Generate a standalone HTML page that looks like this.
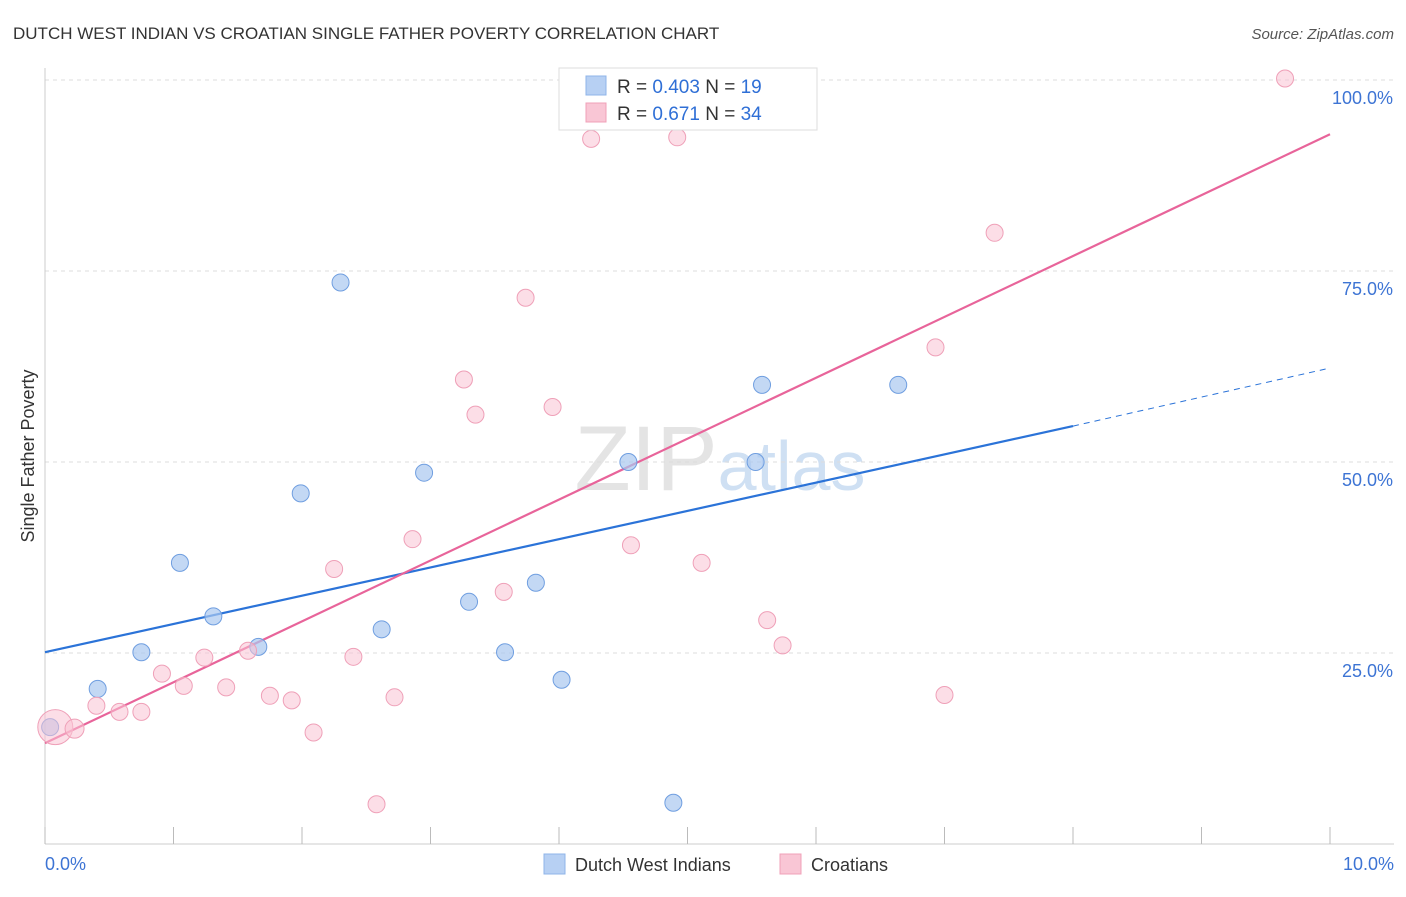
<!DOCTYPE html>
<html><head><meta charset="utf-8"><style>
body{margin:0;background:#fff;font-family:"Liberation Sans",sans-serif}
svg text{font-family:"Liberation Sans",sans-serif}
</style></head><body>
<svg id="chart" width="1406" height="892" xmlns="http://www.w3.org/2000/svg">
<text x="13" y="39" font-size="17" fill="#333">DUTCH WEST INDIAN VS CROATIAN SINGLE FATHER POVERTY CORRELATION CHART</text>
<text x="1394" y="39" font-size="15" fill="#555" text-anchor="end" font-style="italic">Source: ZipAtlas.com</text>
<text transform="translate(34,456) rotate(-90)" font-size="18" fill="#333" text-anchor="middle">Single Father Poverty</text>
<text x="720" y="490" font-size="92" fill="#e4e4e4" text-anchor="middle" font-family="Liberation Serif">ZIP<tspan fill="#cfe0f3" font-family="Liberation Sans" font-size="70">atlas</tspan></text>
<g id="grid"></g><g id="axes"></g><g id="trends"></g><g id="points"></g>
<g>
<rect x="559" y="68" width="258" height="62" fill="#fff" stroke="#ddd"/>
<rect x="586" y="76" width="20" height="19" fill="#b7d0f3" stroke="#8fb4e8"/>
<text x="617" y="93" font-size="19" fill="#333">R = <tspan fill="#2f6fd6">0.403</tspan>  N =  <tspan fill="#2f6fd6">19</tspan></text>
<rect x="586" y="103" width="20" height="19" fill="#f9c6d5" stroke="#f0a0b8"/>
<text x="617" y="120" font-size="19" fill="#333">R =  <tspan fill="#2f6fd6">0.671</tspan>  N = <tspan fill="#2f6fd6">34</tspan></text>
</g>
<g>
<rect x="544" y="854" width="21" height="20" fill="#b7d0f3" stroke="#8fb4e8"/>
<text x="575" y="871" font-size="18" fill="#333">Dutch West Indians</text>
<rect x="780" y="854" width="21" height="20" fill="#f9c6d5" stroke="#f0a0b8"/>
<text x="811" y="871" font-size="18" fill="#333">Croatians</text>
</g>
</svg>
<script>
const blueX=[0.04,0.41,0.75,1.05,1.31,1.66,1.99,2.30,2.62,2.95,3.30,3.58,3.82,4.02,4.54,4.89,5.53,5.58,6.64];
const blueY=[15.3,20.3,25.1,36.8,29.8,25.8,45.9,73.5,28.1,48.6,31.7,25.1,34.2,21.5,50.0,5.4,50.0,60.1,60.1];
const pinkX=[0.08,0.23,0.40,0.58,0.75,0.91,1.08,1.24,1.41,1.58,1.75,1.92,2.09,2.25,2.40,2.58,2.72,2.86,3.26,3.35,3.57,3.74,3.95,4.25,4.56,4.92,5.11,5.25,5.62,5.74,6.93,7.00,7.39,9.65];
const pinkY=[15.3,15.1,18.1,17.3,17.3,22.3,20.7,24.4,20.5,25.3,19.4,18.8,14.6,36.0,24.5,5.2,19.2,39.9,60.8,56.2,33.0,71.5,57.2,92.3,39.1,92.5,36.8,100.0,29.3,26.0,65.0,19.5,80.0,100.2];
const pinkR=[18,10,9,9,9,9,9,9,9,9,9,9,9,9,9,9,9,9,9,9,9,9,9,9,9,9,9,9,9,9,9,9,9,9];
const blueTrend=[25.1,54.7,62.3]; // at x=0, 8, 10
const pinkTrend=[13.2,92.9];       // at x=0, 10
const yTicks=[25,50,75,100];
const xTickLabels=["0.0%","10.0%"];
const sx=v=>45+v*128.5, sy=v=>844-v*7.64;
const NS="http://www.w3.org/2000/svg";
function mk(parent,tag,attrs){const e=document.createElementNS(NS,tag);for(const k in attrs)e.setAttribute(k,attrs[k]);document.getElementById(parent).appendChild(e);return e;}
yTicks.forEach(t=>{
 const l=mk('grid','line',{x1:45,x2:1394,y1:sy(t),y2:sy(t),stroke:'#ddd','stroke-dasharray':'4,4'});
 
 
 const tx=mk('axes','text',{x:1393,y:sy(t)+24,'font-size':18,fill:'#3d74d4','text-anchor':'end'});
 tx.textContent=t.toFixed(1)+'%';
 
 
});
const ax=mk('axes','line',{x1:45,x2:1394,y1:844,y2:844,stroke:'#ccc'});


const ay=mk('axes','line',{x1:45,x2:45,y1:68,y2:844,stroke:'#ccc'});


for(let i=0;i<=10;i++){
 const t=mk('axes','line',{x1:sx(i),x2:sx(i),y1:827,y2:844,stroke:'#bbb'});
 
 
}
[[0,'start',45],[10,'end',1394]].forEach((d,i)=>{
 const tx=mk('axes','text',{x:d[2],y:870,'font-size':18,fill:'#3d74d4','text-anchor':d[1]});
 tx.textContent=xTickLabels[i];
 
 
});
const b1=mk('trends','line',{x1:sx(0),y1:sy(blueTrend[0]),x2:sx(8),y2:sy(blueTrend[1]),stroke:'#2b73d8','stroke-width':2.2});


const b2=mk('trends','line',{x1:sx(8),y1:sy(blueTrend[1]),x2:sx(10),y2:sy(blueTrend[2]),stroke:'#2b73d8','stroke-width':1,'stroke-dasharray':'6,5'});


const p1=mk('trends','line',{x1:sx(0),y1:sy(pinkTrend[0]),x2:sx(10),y2:sy(pinkTrend[1]),stroke:'#e8649a','stroke-width':2.2});


blueX.forEach((x,i)=>{
 const c=mk('points','circle',{cx:sx(x),cy:sy(blueY[i]),r:8.5,fill:'rgba(170,200,240,0.7)',stroke:'#6f9ee0','stroke-width':1});
 
 
});
pinkX.forEach((x,i)=>{
 const c=mk('points','circle',{cx:sx(x),cy:sy(pinkY[i]),r:pinkR[i]-0.5,fill:'rgba(249,195,212,0.55)',stroke:'#efa0b8','stroke-width':1});
 
 
});
</script>
</body></html>
